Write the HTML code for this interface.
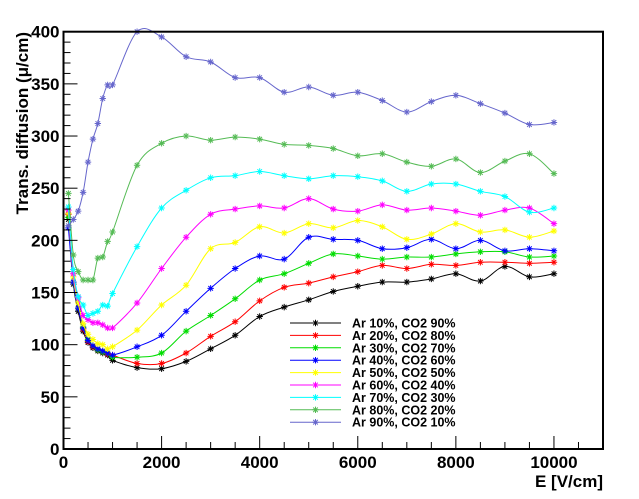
<!DOCTYPE html>
<html><head><meta charset="utf-8"><style>
body{margin:0;background:#fff;}
svg{display:block;font-family:"Liberation Sans",sans-serif;font-weight:bold;}
</style></head><body>
<svg id="chart" width="639" height="499" viewBox="0 0 639 499"></svg>
<script>
const xLow=[100,200,300,400,500,600,700,800,900,1000,1500];
const xHigh=[2000,2500,3000,3500,4000,4500,5000,5500,6000,6500,7000,7500,8000,8500,9000,9500,10000];
const seriesNames=["Ar 10%, CO2 90%","Ar 20%, CO2 80%","Ar 30%, CO2 70%","Ar 40%, CO2 60%","Ar 50%, CO2 50%","Ar 60%, CO2 40%","Ar 70%, CO2 30%","Ar 80%, CO2 20%","Ar 90%, CO2 10%"];
const seriesColors=["#000000","#ff0000","#00dd00","#0000ff","#ffff00","#ff00ff","#00ffff","#55bb55","#6666cc"];
const s10=[220,158,132,113,102,97,94,92,90,85,78, 77,84,96,109,127,136,143,151,156,160,160,163,168,161,175,165,168];
const s20=[225,160,135,115,103,98,95,93,91,90,82, 82,92,108,122,142,155,159,165,170,176,173,177,176,179,179,178,179];
const s30=[222,160,135,117,105,99,95,93,92,88,88, 92,113,128,144,162,168,178,187,185,182,184,184,187,189,189,184,185];
const s40=[212,160,135,116,104,99,96,94,92,90,98, 109,132,154,173,185,182,203,201,200,192,193,201,192,200,190,192,190];
const s50=[226,165,140,120,110,105,101,100,96,98,114, 138,157,192,198,213,207,216,212,219,213,201,206,216,208,210,203,209];
const s60=[229,168,145,128,124,121,121,119,116,116,140, 173,203,225,230,233,231,240,230,228,234,229,231,228,224,229,231,216];
const s70=[232,172,146,138,128,130,132,138,137,149,194, 231,248,260,262,266,262,259,262,261,257,247,254,254,247,242,227,231];
const s80=[245,186,170,162,162,162,183,184,199,208,272, 293,300,296,299,297,292,291,288,281,283,275,271,278,265,276,283,264];
const s90=[214,220,228,246,275,297,312,336,349,349,400, 395,376,371,356,356,342,347,339,342,334,323,333,339,331,322,311,313];
const allSeries=[s10,s20,s30,s40,s50,s60,s70,s80,s90];
const xTickLabels=["0","2000","4000","6000","8000","10000"];
const yTickLabels=["0","50","100","150","200","250","300","350","400"];

const X0=63.5,X1=603,Y0=449,Y1=31.7,XMAX=11000,YMAX=400;
const sx=v=>X0+v/XMAX*(X1-X0);
const sy=v=>Y0-v/YMAX*(Y0-Y1);
const NS="http://www.w3.org/2000/svg";
const svg=document.getElementById("chart");
function mk(tag,attrs,parent){const e=document.createElementNS(NS,tag);for(const k in attrs)e.setAttribute(k,attrs[k]);(parent||svg).appendChild(e);return e;}
const xs=xLow.concat(xHigh);
function spline(pts){
  let d="M"+pts[0][0]+","+pts[0][1];
  for(let i=0;i<pts.length-1;i++){
    const p0=pts[Math.max(0,i-1)],p1=pts[i],p2=pts[i+1],p3=pts[Math.min(pts.length-1,i+2)];
    const c1=[p1[0]+(p2[0]-p0[0])/6,p1[1]+(p2[1]-p0[1])/6];
    const c2=[p2[0]-(p3[0]-p1[0])/6,p2[1]-(p3[1]-p1[1])/6];
    d+=" C"+c1[0].toFixed(1)+","+c1[1].toFixed(1)+" "+c2[0].toFixed(1)+","+c2[1].toFixed(1)+" "+p2[0].toFixed(1)+","+p2[1].toFixed(1);
  }
  return d;
}
function star(g,x,y,c){
  const r=3.2,q=2.3;
  mk("path",{d:`M${x-r},${y}H${x+r}M${x},${y-r}V${y+r}M${x-q},${y-q}L${x+q},${y+q}M${x-q},${y+q}L${x+q},${y-q}`,stroke:c,"stroke-width":1,fill:"none"},g);
}
// series
allSeries.forEach((vals,si)=>{
  const g=mk("g",{});
  
  
  const pts=vals.map((v,i)=>[sx(xs[i]),sy(Math.min(v,YMAX))]);
  mk("path",{d:spline(pts),stroke:seriesColors[si],"stroke-width":1,fill:"none"},g);
  pts.forEach(p=>star(g,p[0],p[1],seriesColors[si]));
});
// frame
const frame=mk("rect",{x:X0,y:Y1,width:X1-X0,height:Y0-Y1,fill:"none",stroke:"#000","stroke-width":2});


// x ticks
const xg=mk("g",{});


for(let v=0;v<=XMAX;v+=500){const big=v%2000===0;mk("line",{x1:sx(v),x2:sx(v),y1:Y0,y2:Y0-(big?13:7),stroke:"#000","stroke-width":1},xg);}
xTickLabels.forEach(t=>{const e=mk("text",{x:sx(+t),y:Y0+19,"text-anchor":"middle","font-size":17},xg);e.textContent=t;});
const xt=mk("text",{x:X1,y:487,"text-anchor":"end","font-size":17});xt.textContent="E [V/cm]";


// y ticks
const yg=mk("g",{});


for(let v=0;v<=YMAX;v+=10){const big=v%50===0;mk("line",{x1:X0,x2:X0+(big?14:7),y1:sy(v),y2:sy(v),stroke:"#000","stroke-width":1},yg);}
yTickLabels.forEach(t=>{const e=mk("text",{x:X0-4,y:sy(+t)+6,"text-anchor":"end","font-size":17},yg);e.textContent=t;});
const yt=mk("text",{x:0,y:0,"text-anchor":"end","font-size":17,transform:"translate(28,32) rotate(-90)"});yt.textContent="Trans. diffusion (\u03bc/cm)";


// legend
const lg=mk("g",{});


seriesNames.forEach((n,i)=>{
  const y=323+i*12.4;
  const eg=mk("g",{},lg);
  
  
  mk("line",{x1:290,x2:341,y1:y,y2:y,stroke:seriesColors[i],"stroke-width":1},eg);
  star(eg,315.5,y,seriesColors[i]);
  const t=mk("text",{x:352,y:y+4.5,"font-size":12.5},eg);t.textContent=n;
});
</script>
</body></html>
